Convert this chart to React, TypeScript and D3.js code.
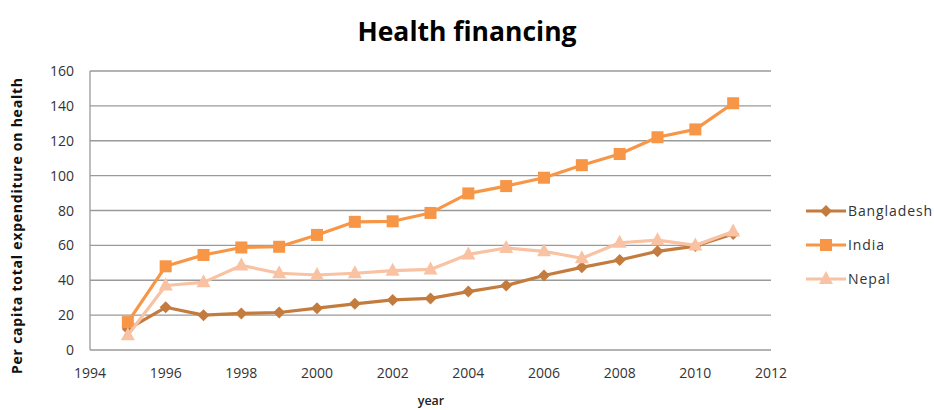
import React from "react";
import * as d3 from "d3";

const years = [1995, 1996, 1997, 1998, 1999, 2000, 2001, 2002, 2003, 2004, 2005, 2006, 2007, 2008, 2009, 2010, 2011];
const bangladesh = [12, 24.5, 20, 21, 21.5, 24, 26.5, 28.7, 29.6, 33.5, 37, 42.7, 47.4, 51.6, 56.6, 59.6, 66.5];
const india = [16, 48, 54.5, 58.8, 59.2, 66, 73.5, 73.8, 78.6, 89.8, 94, 98.8, 106, 112.4, 122, 126.5, 141.5];
const nepal = [8.5, 37, 38.8, 48.5, 44, 43, 44, 45.5, 46.2, 54.8, 58.5, 56.6, 52.6, 61.5, 63, 60, 68];
const yTicks = [0, 20, 40, 60, 80, 100, 120, 140, 160];
const xTicks = [1994, 1996, 1998, 2000, 2002, 2004, 2006, 2008, 2010, 2012];

const seriesNames = ["Bangladesh", "India", "Nepal"];
const seriesData = [bangladesh, india, nepal];
const seriesColors = ["#c47b3e", "#f79646", "#f8c2a3"];
const seriesMarkers = ["diamond", "square", "triangle"];

const W = 934;
const H = 410;
const left = 90;
const right = 771;
const top = 71;
const bottom = 350;

const font = "'Open Sans', sans-serif";

function Marker({ type, x, y, color }: { type: string; x: number; y: number; color: string }) {
  if (type === "square") {
    return <rect x={x - 6} y={y - 6} width={12} height={12} fill={color} />;
  }
  if (type === "diamond") {
    const p = `${x},${y - 6} ${x + 6},${y} ${x},${y + 6} ${x - 6},${y}`;
    return <polygon points={p} fill={color} />;
  }
  const p = `${x},${y - 8} ${x + 7},${y + 5} ${x - 7},${y + 5}`;
  return <polygon points={p} fill={color} />;
}

export default function App() {
  const x = d3.scaleLinear().domain([1994, 2012]).range([left, right]);
  const y = d3.scaleLinear().domain([0, 160]).range([bottom, top]);
  const line = d3
    .line<number>()
    .x((_, i) => x(years[i]))
    .y((d) => y(d));

  const legendX = 806;
  const legendY = [211, 245, 279];

  return (
    <svg width={W} height={H} style={{ position: "absolute", left: 0, top: 0, background: "#fff" }}>
      <rect x={0} y={0} width={W} height={H} fill="#fff" />
      <text x={467} y={41} textAnchor="middle" fontFamily={font} fontWeight="bold" fontSize={26.5} fill="#000">
        Health financing
      </text>
      {yTicks.map((t) => (
        <g key={t}>
          {t > 0 && <line x1={left} x2={right} y1={y(t)} y2={y(t)} stroke="#9a9a9a" strokeWidth={1.3} />}
          <text x={74} y={y(t) + 5} textAnchor="end" fontFamily={font} fontSize={14} fill="#333">
            {t}
          </text>
        </g>
      ))}
      <line x1={left} x2={left} y1={top} y2={bottom} stroke="#9a9a9a" strokeWidth={1.3} />
      <line x1={left} x2={right} y1={bottom} y2={bottom} stroke="#9a9a9a" strokeWidth={1.3} />
      {xTicks.map((t) => (
        <text key={t} x={x(t)} y={378} textAnchor="middle" fontFamily={font} fontSize={14} fill="#333">
          {t}
        </text>
      ))}
      <text x={431} y={405} textAnchor="middle" fontFamily={font} fontWeight={600} fontSize={12.5} fill="#222">
        year
      </text>
      <text
        transform={`translate(22, 226) rotate(-90)`}
        textAnchor="middle"
        fontFamily={font}
        fontWeight="bold"
        fontSize={14}
        textLength={296}
        lengthAdjust="spacing"
        fill="#111"
      >
        Per capita total expenditure on health
      </text>
      {seriesData.map((data, si) => (
        <g key={seriesNames[si]}>
          <path d={line(data) || ""} fill="none" stroke={seriesColors[si]} strokeWidth={3.2} strokeLinejoin="round" />
          {data.map((v, i) => (
            <Marker key={i} type={seriesMarkers[si]} x={x(years[i])} y={y(v)} color={seriesColors[si]} />
          ))}
        </g>
      ))}
      {seriesNames.map((n, si) => (
        <g key={n}>
          <line x1={legendX} x2={legendX + 40} y1={legendY[si]} y2={legendY[si]} stroke={seriesColors[si]} strokeWidth={3.2} />
          <Marker type={seriesMarkers[si]} x={legendX + 20} y={legendY[si]} color={seriesColors[si]} />
          <text x={legendX + 42} y={legendY[si] + 5} fontFamily={font} fontSize={14} letterSpacing={0.9} fill="#333">
            {n}
          </text>
        </g>
      ))}
    </svg>
  );
}
